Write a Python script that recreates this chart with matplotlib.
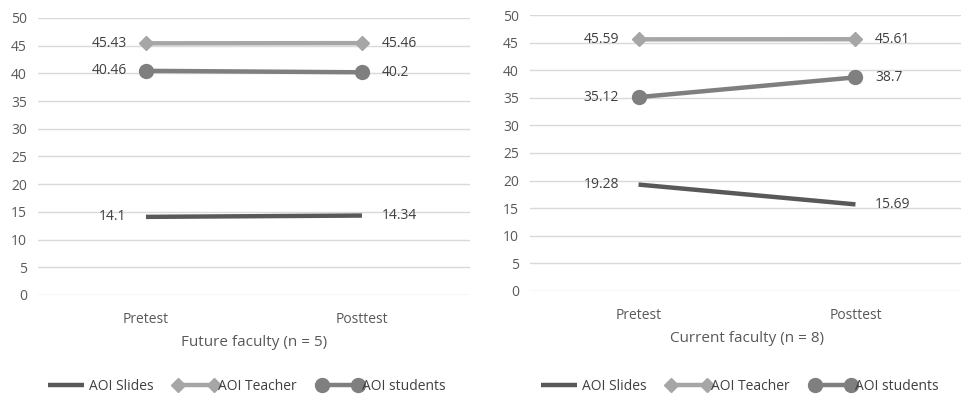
import matplotlib.pyplot as plt
from matplotlib.lines import Line2D

plt.rcParams["font.family"] = ["Open Sans", "DejaVu Sans"]

categories = ["Pretest", "Posttest"]
series_names = ["AOI Slides", "AOI Teacher", "AOI students"]

future_slides = [14.1, 14.34]
future_teacher = [45.43, 45.46]
future_students = [40.46, 40.2]

current_slides = [19.28, 15.69]
current_teacher = [45.59, 45.61]
current_students = [35.12, 38.7]

titles = ["Future faculty (n = 5)", "Current faculty (n = 8)"]

colors = ["#595959", "#a6a6a6", "#7f7f7f"]
markers = [None, "D", "o"]
msizes = [0, 7, 10]
text_col = "#595959"

fig = plt.figure(figsize=(9.62, 3.99), dpi=100)
ax1 = fig.add_axes([0.0395, 0.2607, 0.449, 0.6942])
ax2 = fig.add_axes([0.551, 0.2707, 0.451, 0.6917])

panels = [
    (ax1, [future_slides, future_teacher, future_students], titles[0], 245),
    (ax2, [current_slides, current_teacher, current_students], titles[1], 738),
]

x = [0, 1]
for ax, data, title, leg_x in panels:
    handles = []
    for vals, name, c, m, ms in zip(data, series_names, colors, markers, msizes):
        ln, = ax.plot(x, vals, color=c, lw=3.2, marker=m, markersize=ms,
                      solid_capstyle="butt", zorder=3, label=name)
        handles.append(ln)
        ax.text(x[0] - 0.09, vals[0], str(vals[0]), ha="right", va="center",
                fontsize=10, color="#404040")
        ax.text(x[1] + 0.09, vals[1], str(vals[1]), ha="left", va="center",
                fontsize=10, color="#404040")
    ax.set_xlim(-0.5, 1.5)
    ax.set_ylim(0, 50)
    ax.set_yticks(range(0, 51, 5))
    ax.set_xticks(x)
    ax.set_xticklabels(categories)
    ax.tick_params(length=0, labelsize=10, colors=text_col)
    ax.tick_params(axis="x", pad=12)
    ax.tick_params(axis="y", pad=8)
    ax.grid(axis="y", color="#d9d9d9", lw=1)
    ax.set_axisbelow(True)
    for s in ax.spines.values():
        s.set_visible(False)
    ax.set_xlabel(title, fontsize=11, color=text_col, labelpad=6)
    fig.legend(handles=handles, loc="center", ncol=3, frameon=False,
               bbox_to_anchor=(leg_x / 962, 1 - 386 / 399), fontsize=10,
               numpoints=2, handlelength=3.2, handletextpad=0.0,
               columnspacing=1.5, labelcolor="#404040")

fig.savefig("out.png", dpi=100)
